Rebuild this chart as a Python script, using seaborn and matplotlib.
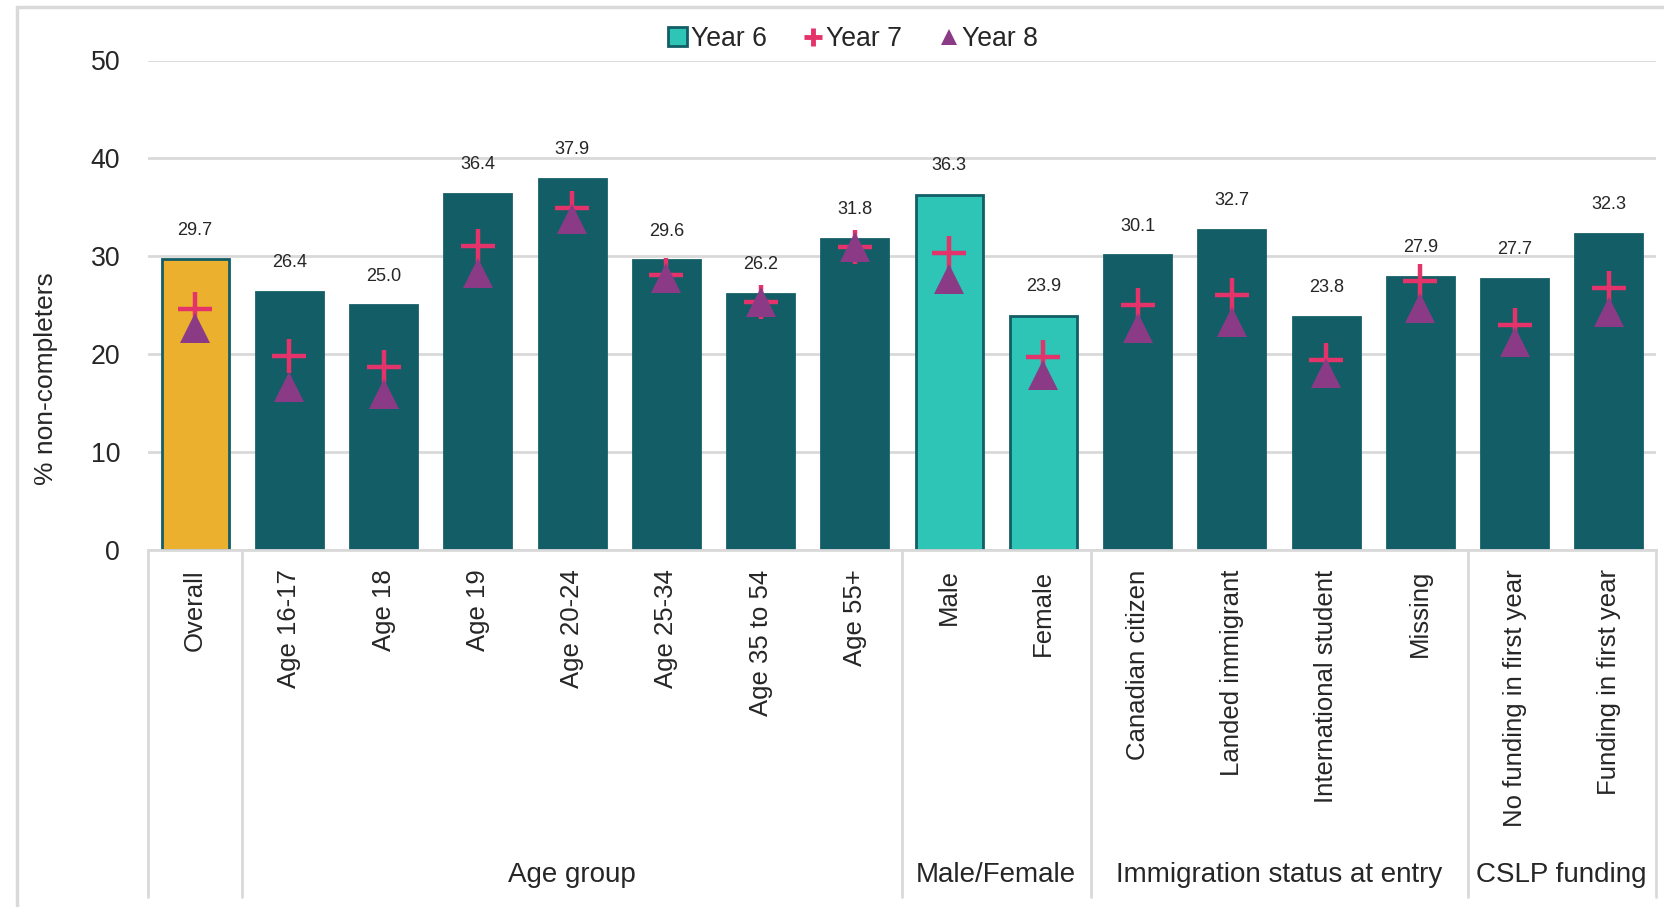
import matplotlib
matplotlib.use("Agg")
import matplotlib.pyplot as plt
import matplotlib.font_manager as fm
from matplotlib.lines import Line2D
from matplotlib.patches import Patch
import matplotlib.transforms as mtransforms
import seaborn as sns
import pandas as pd

# ---------------- data ----------------
categories = ["Overall", "Age 16-17", "Age 18", "Age 19", "Age 20-24", "Age 25-34",
              "Age 35 to 54", "Age 55+", "Male", "Female", "Canadian citizen",
              "Landed immigrant", "International student", "Missing",
              "No funding in first year", "Funding in first year"]
year6 = [29.7, 26.4, 25.0, 36.4, 37.9, 29.6, 26.2, 31.8, 36.3, 23.9,
         30.1, 32.7, 23.8, 27.9, 27.7, 32.3]
year7 = [24.6, 19.8, 18.7, 31.1, 34.9, 28.1, 25.3, 30.9, 30.3, 19.7,
         25.0, 26.0, 19.4, 27.5, 23.0, 26.8]
year8 = [22.7, 16.6, 15.9, 28.3, 33.8, 27.8, 25.3, 31.0, 27.7, 17.9,
         22.7, 23.3, 18.1, 24.7, 21.2, 24.3]
groups = ["", "Age group", "Male/Female", "Immigration status at entry", "CSLP funding"]
group_sizes = [1, 7, 2, 4, 2]
series_names = ["Year 6", "Year 7", "Year 8"]
y_ticks = [0, 10, 20, 30, 40, 50]

# ---------------- style ----------------
DARK = "#135E66"
TURQ = "#2EC4B6"
GOLD = "#EBB02D"
PINK = "#E4336A"
PURPLE = "#8B3A85"
GRID = "#D9D9D9"
TXT = "#262626"

bar_colors = [GOLD] + [DARK] * 7 + [TURQ] * 2 + [DARK] * 6

sns.set_theme(style="white")
plt.rcParams["font.family"] = ["Liberation Sans", "DejaVu Sans"]


def has_font(name):
    try:
        fm.findfont(fm.FontProperties(family=name), fallback_to_default=False)
        return True
    except Exception:
        return False


NARROW = "Liberation Sans Narrow" if has_font("Liberation Sans Narrow") else "Liberation Sans"
narrow_scale = 1.0 if NARROW == "Liberation Sans Narrow" else 0.87

W, H = 1664, 907
fig = plt.figure(figsize=(W / 100, H / 100), dpi=100)
ax_left, ax_right = 148, 1656
ax_top, ax_bottom = 60.5, 550
ax = fig.add_axes([ax_left / W, 1 - ax_bottom / H, (ax_right - ax_left) / W,
                   (ax_bottom - ax_top) / H])

df = pd.DataFrame({"category": categories, "Year 6": year6,
                   "Year 7": year7, "Year 8": year8})

sns.barplot(data=df, x="category", y="Year 6", hue="category",
            palette=bar_colors, legend=False, width=0.71,
            edgecolor=DARK, linewidth=2.0, saturation=1, ax=ax, zorder=2)

sns.pointplot(data=df, x="category", y="Year 7", linestyle="none", marker="+",
              markersize=24, markeredgewidth=3.2, color=PINK, errorbar=None,
              ax=ax, zorder=3)
sns.pointplot(data=df, x="category", y="Year 8", linestyle="none", marker="^",
              markersize=21, markeredgewidth=0, color=PURPLE, errorbar=None,
              ax=ax, zorder=4)

# data labels
for i, v in enumerate(year6):
    ax.annotate(f"{v:.1f}", xy=(i, v), xytext=(0, 21), textcoords="offset points",
                ha="center", va="center", fontsize=15 * narrow_scale,
                family=NARROW, color=TXT, zorder=5)

ax.set_xlim(-0.5, len(categories) - 0.5)
ax.set_ylim(0, 50)
ax.set_yticks(y_ticks)
ax.set_yticklabels([str(t) for t in y_ticks], family=NARROW,
                   fontsize=22 * narrow_scale, color=TXT)
ax.tick_params(axis="y", length=0, pad=20)
ax.tick_params(axis="x", length=0, pad=14)
ax.set_xticks(range(len(categories)))
ax.set_xticklabels(categories, rotation=90, fontsize=18.5, color=TXT,
                   ha="center", va="top")
ax.set_xlabel("")
ax.set_ylabel("% non-completers", fontsize=19, color=TXT)
ax.yaxis.set_label_coords(-0.0595, 0.35)

ax.grid(axis="y", color=GRID, linewidth=2.0, zorder=0)
ax.set_axisbelow(True)
for s in ["top", "right", "left"]:
    ax.spines[s].set_visible(False)
ax.spines["bottom"].set_color(GRID)
ax.spines["bottom"].set_linewidth(2.0)

# group separators and labels below the axis
trans = mtransforms.blended_transform_factory(ax.transData, ax.transAxes)
sep_bottom = -(897 - ax_bottom) / (ax_bottom - ax_top)
label_y = -(875 - ax_bottom) / (ax_bottom - ax_top)
pos = -0.5
bounds = [pos]
for g, n in zip(groups, group_sizes):
    center = pos + n / 2
    if g:
        ax.text(center, label_y, g, transform=trans, ha="center", va="center",
                fontsize=23 * narrow_scale, family=NARROW, color=TXT)
    pos += n
    bounds.append(pos)
for b in bounds:
    ax.add_line(Line2D([b, b], [0, sep_bottom], transform=trans, color=GRID,
                       linewidth=2.0, clip_on=False))

# legend
handles = [
    Patch(facecolor=TURQ, edgecolor=DARK, linewidth=2.0),
    Line2D([], [], linestyle="none", marker="+", markersize=13,
           markeredgewidth=3.5, color=PINK),
    Line2D([], [], linestyle="none", marker="^", markersize=11,
           markeredgewidth=0, color=PURPLE),
]
fig.legend(handles, series_names, loc="center", bbox_to_anchor=(853 / W, 1 - 39 / H),
           ncol=3, frameon=False, prop={"family": NARROW, "size": 22 * narrow_scale},
           handlelength=0.7, handleheight=0.7, handletextpad=0.15,
           columnspacing=1.4, labelcolor=TXT)

# outer chart frame (partly cropped in the reference)
fig.add_artist(Line2D([17 / W, 17 / W], [0, 1 - 7 / H], transform=fig.transFigure,
                      color=GRID, linewidth=2.5))
fig.add_artist(Line2D([17 / W, 1], [1 - 7 / H, 1 - 7 / H], transform=fig.transFigure,
                      color=GRID, linewidth=2.5))

fig.savefig("out.png", dpi=100, facecolor="white")
